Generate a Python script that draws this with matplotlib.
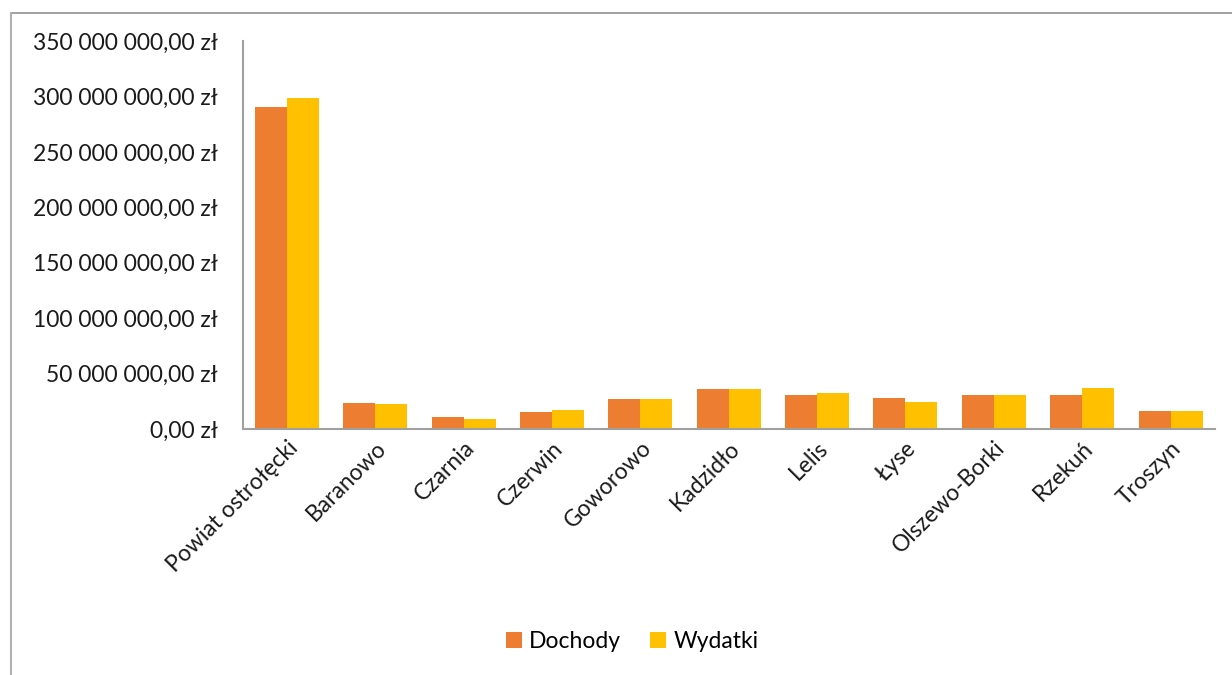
import matplotlib.pyplot as plt
import numpy as np
from matplotlib.lines import Line2D
from matplotlib.ticker import FuncFormatter

categories = ['Powiat ostrołęcki', 'Baranowo', 'Czarnia', 'Czerwin', 'Goworowo',
              'Kadzidło', 'Lelis', 'Łyse', 'Olszewo-Borki', 'Rzekuń', 'Troszyn']
dochody = [290.7e6, 23.2e6, 10.5e6, 15.0e6, 26.8e6, 35.8e6, 30.4e6, 27.7e6, 30.4e6, 30.4e6, 16.2e6]
wydatki = [298.9e6, 22.3e6, 9.3e6, 17.4e6, 26.8e6, 35.8e6, 32.5e6, 24.4e6, 30.4e6, 37.3e6, 16.2e6]
yticks = np.arange(0, 350e6 + 1, 50e6)

plt.rcParams['font.family'] = ['Lato', 'DejaVu Sans']

fig = plt.figure(figsize=(12.32, 6.75), dpi=100)
ax = fig.add_axes([0.197, 0.3644, 0.789, 0.5748])

x = np.arange(len(categories))
w = 0.362
ax.bar(x - w / 2, dochody, w, color='#ED7D31', label='Dochody')
ax.bar(x + w / 2, wydatki, w, color='#FFC000', label='Wydatki')

ax.set_xlim(-0.5, len(categories) - 0.5)
ax.set_ylim(0, 350e6)
ax.set_yticks(yticks)


def zl(v, pos):
    s = f"{v:,.2f}".replace(',', ' ').replace('.', ',')
    return s + ' zł'


ax.yaxis.set_major_formatter(FuncFormatter(zl))
ax.set_xticks(x)
ax.set_xticklabels(categories, rotation=45, ha='right', rotation_mode='anchor')
ax.tick_params(axis='both', length=0, labelsize=16.5, colors='#1a1a1a')
ax.tick_params(axis='y', pad=18)
ax.tick_params(axis='x', pad=6)

for s in ['top', 'right']:
    ax.spines[s].set_visible(False)
for s in ['left', 'bottom']:
    ax.spines[s].set_color('#A0A0A0')
    ax.spines[s].set_linewidth(1.5)

fig.legend(loc='center', bbox_to_anchor=(0.513, 0.049), ncol=2, frameon=False,
           fontsize=16.5, handlelength=0.7, handleheight=0.7, handletextpad=0.3,
           columnspacing=1.3)

# outer chart frame (only top and left edges visible)
fig.add_artist(Line2D([11 / 1232, 1], [1 - 13 / 675, 1 - 13 / 675], color='#909090', lw=1.2,
                      transform=fig.transFigure))
fig.add_artist(Line2D([11 / 1232, 11 / 1232], [0, 1 - 13 / 675], color='#B0B0B0', lw=1.5,
                      transform=fig.transFigure))

fig.savefig('out.png', dpi=100)
